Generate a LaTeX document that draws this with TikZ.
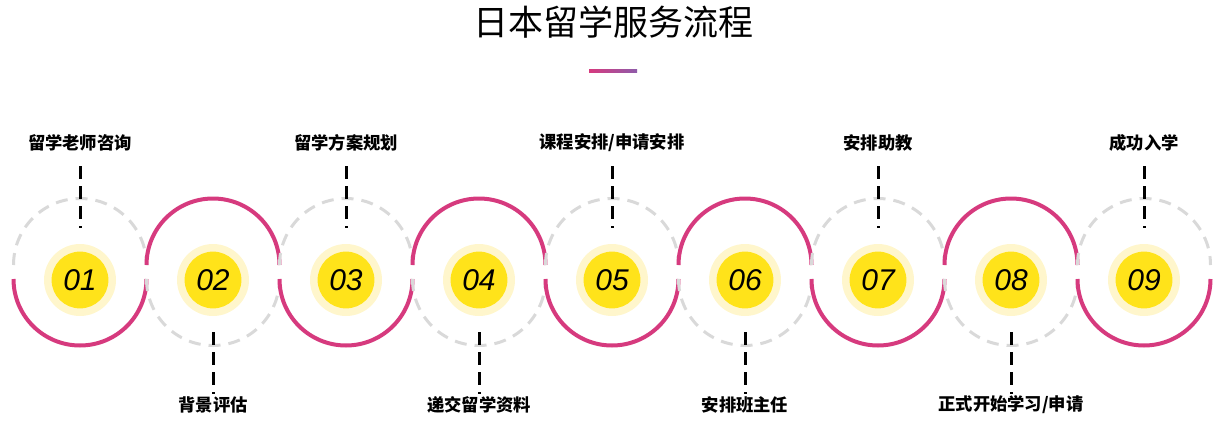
\documentclass[tikz,border=0pt]{standalone}
\usepackage{fontspec}
\newfontfamily\cjk{Noto Sans CJK SC}
\newfontfamily\numfont{Liberation Sans}
\definecolor{pinkc}{HTML}{D63A7E}
\definecolor{grayc}{HTML}{D9D9D9}
\definecolor{yelc}{HTML}{FFE31A}
\definecolor{haloc}{HTML}{FFF6CC}
\definecolor{purpc}{HTML}{8E5BAA}
\begin{document}
\begin{tikzpicture}[x=1pt,y=1pt,
  pinkarc/.style={draw=pinkc,line width=4pt},
  grayarc/.style={draw=grayc,line width=3pt,dash pattern=on 12pt off 8pt},
  lead/.style={draw=black,line width=3pt,dash pattern=on 12.5pt off 7.5pt},
  lbl/.style={font=\cjk\bfseries\fontsize{17.3}{20}\selectfont,inner sep=0pt},
  num/.style={font=\numfont\itshape\fontsize{30}{34}\selectfont,inner sep=0pt},
  titlest/.style={font=\cjk\fontsize{35}{40}\selectfont,inner sep=0pt}
]
\useasboundingbox (0,0) rectangle (1227,-426);
\node[titlest] (title) at (613,-22) {日本留学服务流程};
\shade[left color=pinkc,right color=purpc] (589,-69.5) rectangle (637,-72.5);
\foreach \i/\t in {1/{留学老师咨询},2/{背景评估},3/{留学方案规划},4/{递交留学资料},5/{课程安排/申请安排},6/{安排班主任},7/{安排助教},8/{正式开始学习/申请},9/{成功入学}}{
  \pgfmathsetmacro{\cx}{80+(\i-1)*133}
  \fill[haloc] (\cx,-280) circle (36);
  \fill[yelc] (\cx,-280) circle (28.4);
  \node[num] (n\i) at (\cx,-280) {0\i};
  \ifodd\i
    \draw[grayarc] (\cx-66.5,-265) arc[start angle=180,end angle=0,radius=66.5];
    \draw[pinkarc] (\cx-66.5,-279) arc[start angle=180,end angle=360,radius=66.5];
    \node[lbl] (l\i) at (\cx,-143) {\t};
    \coordinate (a\i) at (\cx,-166);
    \coordinate (b\i) at (\cx,-228);
  \else
    \draw[pinkarc] (\cx-66.5,-265) arc[start angle=180,end angle=0,radius=66.5];
    \draw[grayarc] (\cx-66.5,-279) arc[start angle=180,end angle=360,radius=66.5];
    \node[lbl] (l\i) at (\cx,-405) {\t};
    \coordinate (a\i) at (\cx,-332);
    \coordinate (b\i) at (\cx,-394);
  \fi
  \draw[lead] (a\i) -- (b\i);
}
\end{tikzpicture}
\end{document}
